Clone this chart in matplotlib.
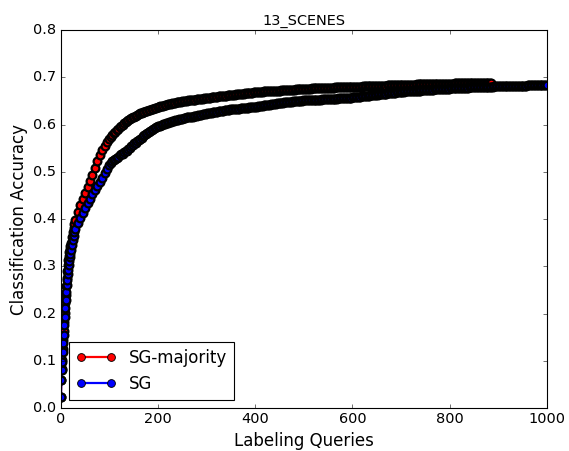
import matplotlib
matplotlib.use("Agg")
import matplotlib.pyplot as plt
from matplotlib.lines import Line2D

# Query counts at which accuracy was recorded
queries_sg = (list(range(0, 21)) + list(range(22, 31, 2))
              + list(range(35, 96, 5)) + list(range(100, 1001, 3)))
queries_major = (list(range(0, 21)) + list(range(22, 31, 2))
                 + list(range(35, 96, 5)) + list(range(100, 887, 3)))

acc_sg = [
    0.024, 0.059, 0.080, 0.098, 0.119, 0.137, 0.154, 0.176, 0.193, 0.212,
    0.229, 0.246, 0.260, 0.272, 0.283, 0.293, 0.303, 0.311, 0.319, 0.327,
    0.334,
    0.345, 0.355, 0.364, 0.372, 0.379,
    0.392, 0.403, 0.413, 0.423, 0.433, 0.442, 0.452, 0.461, 0.470, 0.478,
    0.487, 0.497, 0.507,
    0.515, 0.519, 0.523, 0.526, 0.528, 0.530, 0.532, 0.535, 0.537, 0.538,
    0.541, 0.543, 0.545, 0.548, 0.551, 0.554, 0.557, 0.560, 0.562, 0.565,
    0.567, 0.570, 0.572, 0.575, 0.577, 0.580, 0.582, 0.584, 0.586, 0.588,
    0.590, 0.592, 0.594, 0.596, 0.597, 0.598, 0.600, 0.601, 0.602, 0.603,
    0.604, 0.605, 0.606, 0.607, 0.608, 0.609, 0.610, 0.610, 0.611, 0.612,
    0.612, 0.613, 0.614, 0.615, 0.615, 0.616, 0.617, 0.617, 0.618, 0.619,
    0.619, 0.620, 0.621, 0.621, 0.622, 0.623, 0.623, 0.624, 0.624, 0.625,
    0.625, 0.626, 0.626, 0.627, 0.627, 0.628, 0.628, 0.629, 0.629, 0.630,
    0.630, 0.631, 0.631, 0.632, 0.632, 0.633, 0.633, 0.634, 0.634, 0.634,
    0.635, 0.635, 0.635, 0.636, 0.636, 0.636, 0.637, 0.637, 0.637, 0.638,
    0.638, 0.638, 0.639, 0.639, 0.640, 0.640, 0.641, 0.641, 0.641, 0.642,
    0.642, 0.643, 0.643, 0.644, 0.644, 0.645, 0.645, 0.646, 0.646, 0.646,
    0.647, 0.647, 0.647, 0.648, 0.648, 0.648, 0.649, 0.649, 0.649, 0.650,
    0.650, 0.650, 0.650, 0.651, 0.651, 0.651, 0.651, 0.652, 0.652, 0.652,
    0.652, 0.652, 0.653, 0.653, 0.653, 0.653, 0.654, 0.654, 0.654, 0.654,
    0.654, 0.654, 0.655, 0.655, 0.655, 0.655, 0.655, 0.656, 0.656, 0.656,
    0.656, 0.656, 0.656, 0.657, 0.657, 0.657, 0.657, 0.658, 0.658, 0.658,
    0.659, 0.659, 0.659, 0.660, 0.660, 0.660, 0.661, 0.661, 0.661, 0.662,
    0.662, 0.662, 0.663, 0.663, 0.663, 0.664, 0.664, 0.664, 0.665, 0.665,
    0.665, 0.666, 0.666, 0.666, 0.667, 0.667, 0.667, 0.668, 0.668, 0.668,
    0.669, 0.669, 0.669, 0.670, 0.670, 0.670, 0.671, 0.671, 0.671, 0.671,
    0.672, 0.672, 0.672, 0.672, 0.673, 0.673, 0.673, 0.673, 0.674, 0.674,
    0.674, 0.674, 0.674, 0.675, 0.675, 0.675, 0.675, 0.675, 0.676, 0.676,
    0.676, 0.676, 0.676, 0.676, 0.677, 0.677, 0.677, 0.677, 0.677, 0.677,
    0.678, 0.678, 0.678, 0.678, 0.678, 0.678, 0.678, 0.679, 0.679, 0.679,
    0.679, 0.679, 0.679, 0.679, 0.679, 0.680, 0.680, 0.680, 0.680, 0.680,
    0.680, 0.680, 0.680, 0.680, 0.681, 0.681, 0.681, 0.681, 0.681, 0.681,
    0.681, 0.681, 0.681, 0.681, 0.681, 0.682, 0.682, 0.682, 0.682, 0.682,
    0.682, 0.682, 0.682, 0.682, 0.682, 0.682, 0.682, 0.683, 0.683, 0.683,
    0.683, 0.683, 0.683, 0.683, 0.683, 0.683, 0.683, 0.683, 0.683, 0.683,
    0.683,
]

acc_major = [
    0.024, 0.060, 0.083, 0.102, 0.124, 0.143, 0.162, 0.183, 0.202, 0.222,
    0.240, 0.258, 0.275, 0.290, 0.303, 0.313, 0.322, 0.330, 0.337, 0.344,
    0.350,
    0.362, 0.372, 0.381, 0.390, 0.398,
    0.414, 0.430, 0.443, 0.456, 0.468, 0.480, 0.494, 0.508, 0.522, 0.535,
    0.546, 0.555, 0.563,
    0.570, 0.574, 0.578, 0.582, 0.585, 0.588, 0.591, 0.594, 0.597, 0.600,
    0.603, 0.605, 0.607, 0.609, 0.611, 0.613, 0.615, 0.617, 0.619, 0.621,
    0.623, 0.624, 0.625, 0.626, 0.627, 0.628, 0.629, 0.630, 0.631, 0.632,
    0.634, 0.635, 0.636, 0.637, 0.638, 0.639, 0.640, 0.640, 0.641, 0.642,
    0.643, 0.643, 0.644, 0.645, 0.645, 0.646, 0.647, 0.647, 0.648, 0.648,
    0.649, 0.649, 0.650, 0.650, 0.651, 0.651, 0.652, 0.652, 0.653, 0.653,
    0.654, 0.654, 0.654, 0.655, 0.655, 0.656, 0.656, 0.656, 0.657, 0.657,
    0.658, 0.658, 0.658, 0.659, 0.659, 0.660, 0.660, 0.660, 0.661, 0.661,
    0.661, 0.662, 0.662, 0.662, 0.663, 0.663, 0.663, 0.664, 0.664, 0.664,
    0.665, 0.665, 0.665, 0.666, 0.666, 0.666, 0.667, 0.667, 0.667, 0.668,
    0.668, 0.668, 0.669, 0.669, 0.669, 0.669, 0.670, 0.670, 0.670, 0.670,
    0.671, 0.671, 0.671, 0.671, 0.672, 0.672, 0.672, 0.672, 0.673, 0.673,
    0.673, 0.673, 0.673, 0.674, 0.674, 0.674, 0.674, 0.674, 0.675, 0.675,
    0.675, 0.675, 0.675, 0.676, 0.676, 0.676, 0.676, 0.676, 0.676, 0.677,
    0.677, 0.677, 0.677, 0.677, 0.677, 0.677, 0.678, 0.678, 0.678, 0.678,
    0.678, 0.678, 0.678, 0.678, 0.678, 0.679, 0.679, 0.679, 0.679, 0.679,
    0.679, 0.679, 0.679, 0.679, 0.679, 0.679, 0.680, 0.680, 0.680, 0.680,
    0.680, 0.680, 0.680, 0.680, 0.681, 0.681, 0.681, 0.681, 0.681, 0.681,
    0.681, 0.681, 0.682, 0.682, 0.682, 0.682, 0.682, 0.682, 0.682, 0.682,
    0.682, 0.683, 0.683, 0.683, 0.683, 0.683, 0.683, 0.683, 0.683, 0.683,
    0.683, 0.684, 0.684, 0.684, 0.684, 0.684, 0.684, 0.684, 0.684, 0.684,
    0.684, 0.685, 0.685, 0.685, 0.685, 0.685, 0.685, 0.685, 0.685, 0.685,
    0.685, 0.685, 0.686, 0.686, 0.686, 0.686, 0.686, 0.686, 0.686, 0.686,
    0.686, 0.686, 0.686, 0.686, 0.686, 0.686, 0.686, 0.687, 0.687, 0.687,
    0.687, 0.687, 0.687, 0.687, 0.687, 0.687, 0.687, 0.687, 0.687, 0.687,
    0.687, 0.687, 0.687, 0.687, 0.687, 0.687, 0.687, 0.687, 0.687, 0.687,
    0.687, 0.687, 0.687,
]

plt.style.use("classic")
fig = plt.figure(figsize=(569 / 80, 451 / 80), dpi=80, facecolor="white")
ax = fig.add_axes([0.107, 0.0953, 0.854, 0.838])

# heavy marker edges so the densely packed points merge into a dark band
ax.plot(queries_major, acc_major, color="r", marker="o", mec="k", mew=2.0,
        markersize=7, linewidth=2, label="SG-majority")
ax.plot(queries_sg, acc_sg, color="b", marker="o", mec="k", mew=2.0,
        markersize=7, linewidth=2, label="SG")

ax.set_xlim(0, 1000)
ax.set_ylim(0.0, 0.8)
ax.tick_params(labelsize=13)
ax.set_title("13_SCENES", fontsize=13)
ax.set_xlabel("Labeling Queries", fontsize=15)
ax.set_ylabel("Classification Accuracy", fontsize=15)
leg = ax.legend(loc="lower left", numpoints=2, fontsize=15, handlelength=2.4)
for line in leg.findobj(Line2D):
    line.set_markeredgewidth(0.8)

fig.savefig("out.png", dpi=80, facecolor="white")
